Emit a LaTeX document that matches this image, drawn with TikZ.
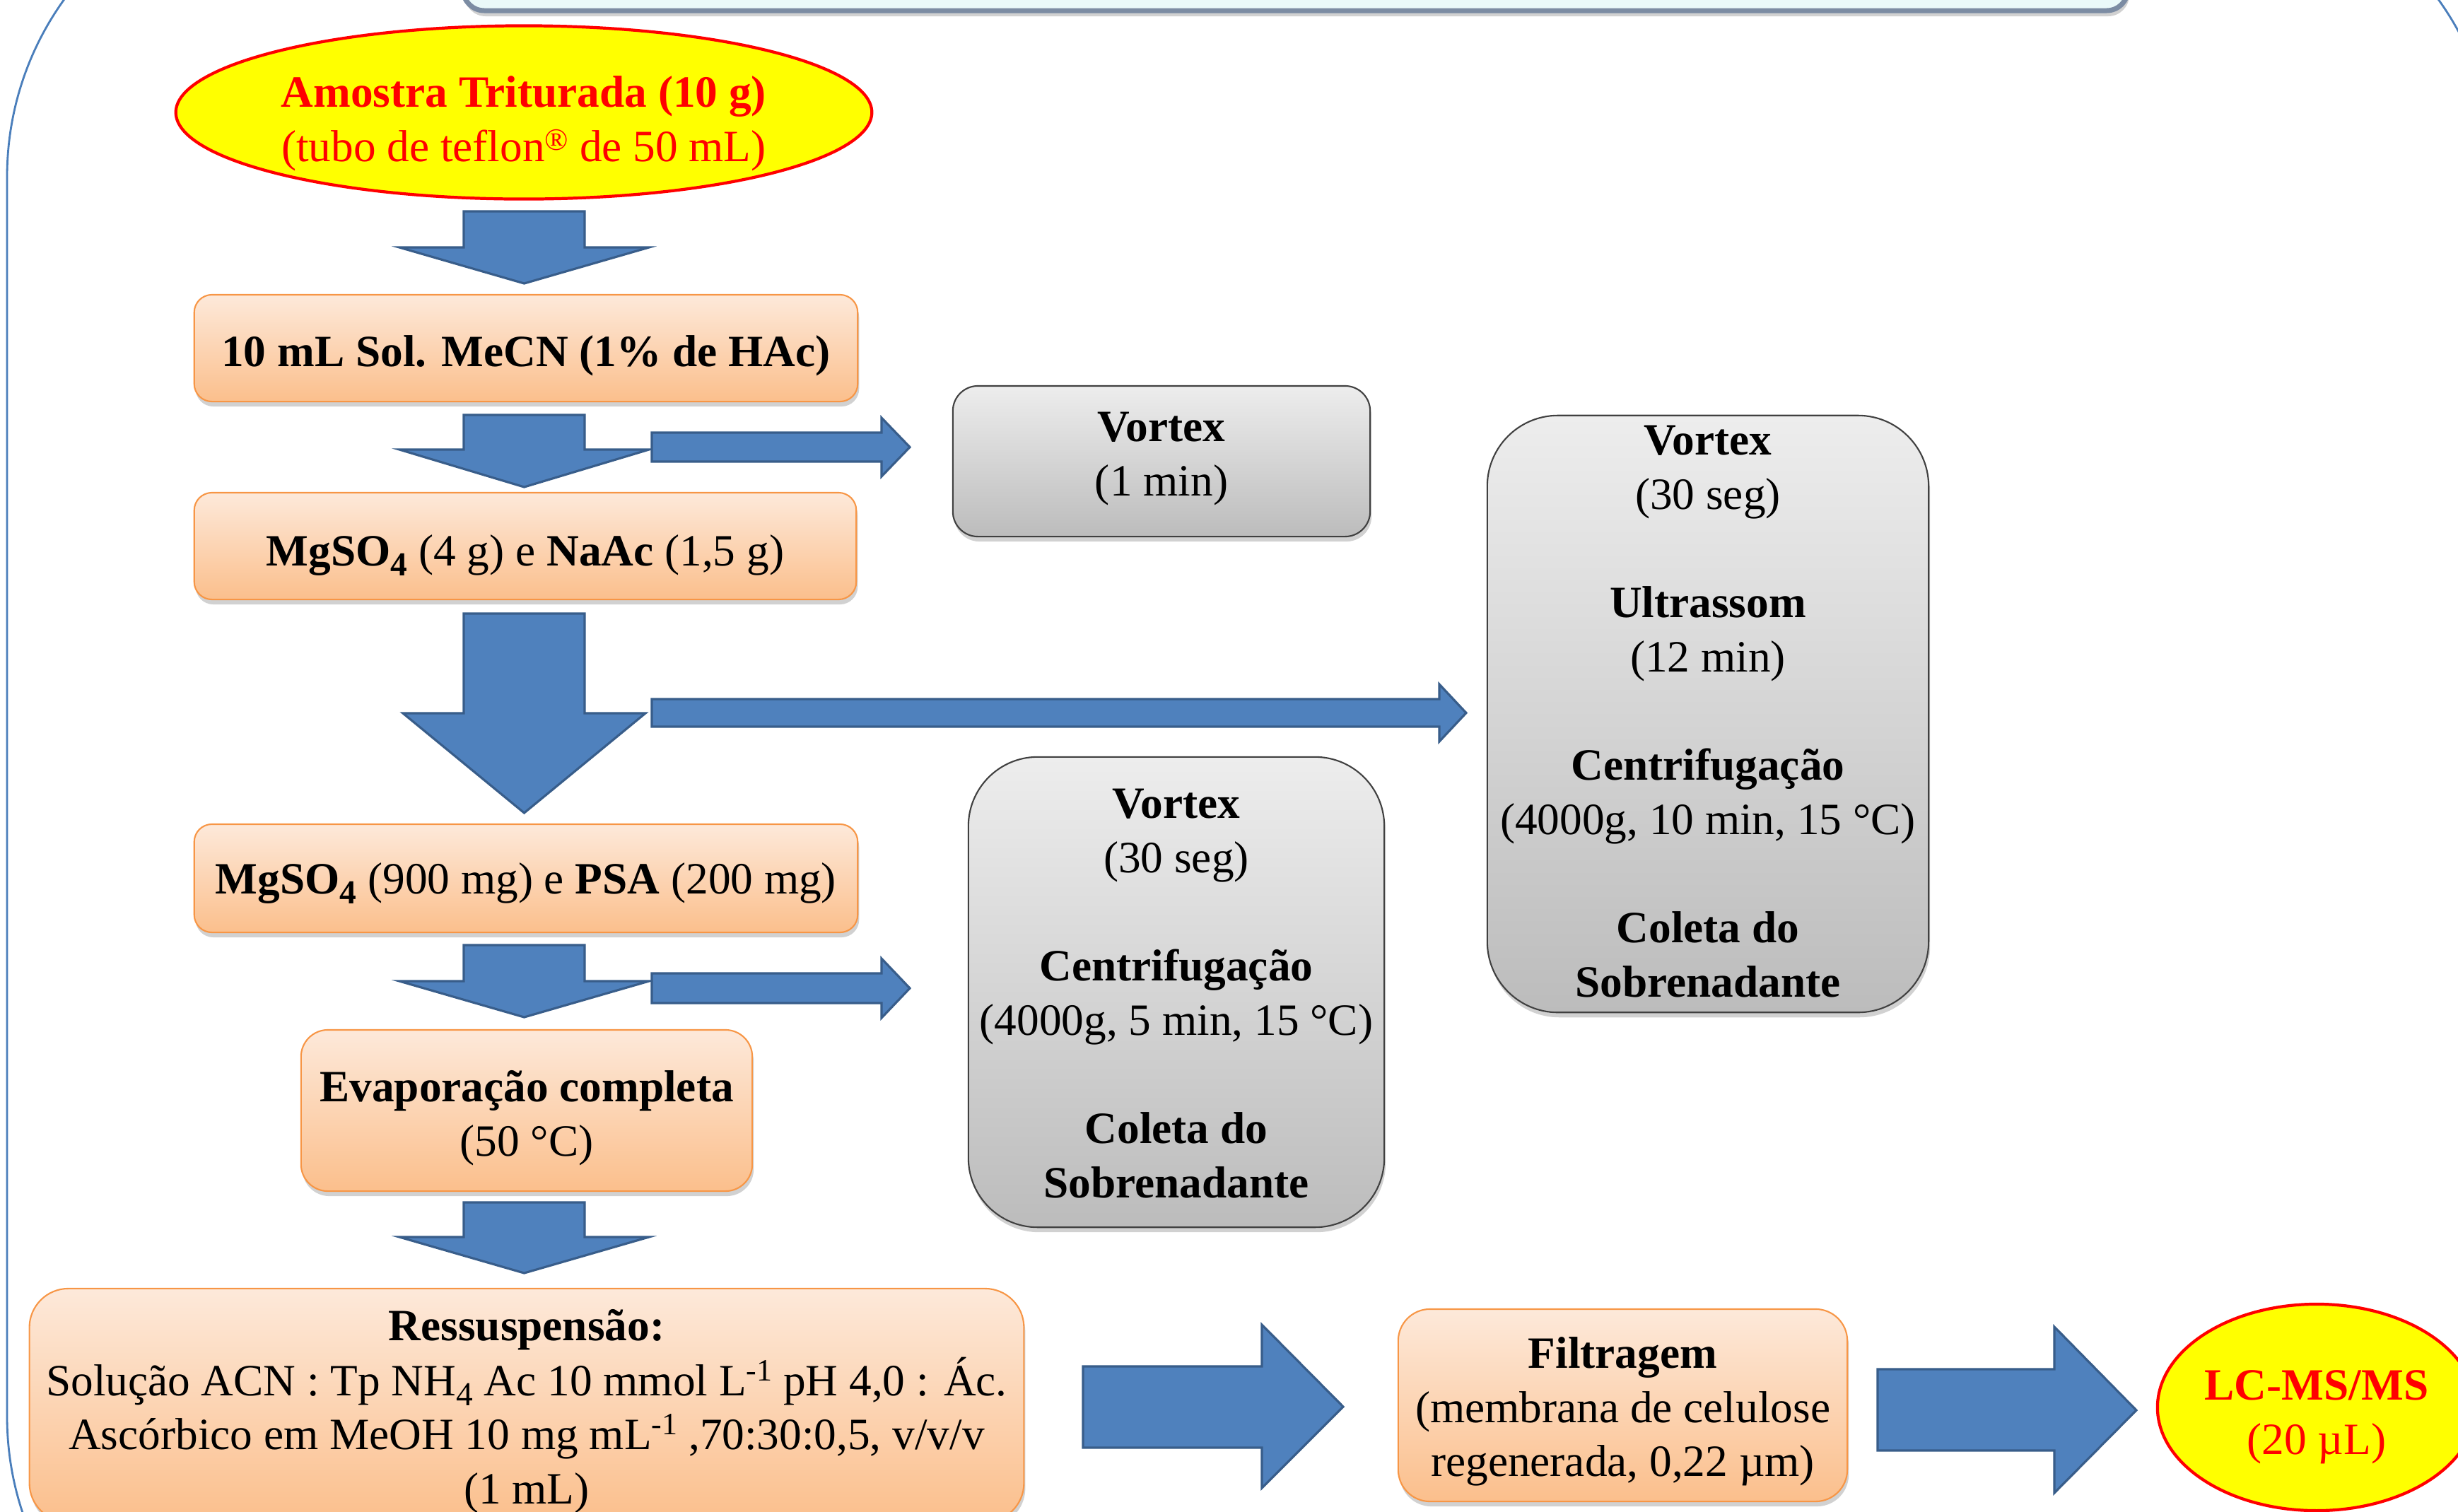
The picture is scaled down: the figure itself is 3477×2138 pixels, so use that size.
\documentclass[tikz,border=0pt]{standalone}
\usepackage{fontspec}
\setmainfont{Liberation Serif}
\usetikzlibrary{shapes.geometric,shadows}
\definecolor{arrowfill}{HTML}{4F81BD}
\definecolor{arrowline}{HTML}{385D8A}
\definecolor{orangeline}{HTML}{F79646}
\definecolor{orangetop}{HTML}{FDE9DA}
\definecolor{orangebot}{HTML}{FBBF8C}
\definecolor{greytop}{HTML}{EDEDED}
\definecolor{greybot}{HTML}{BCBCBC}
\definecolor{frameblue}{HTML}{4A7EBB}
\definecolor{topfill}{HTML}{EAF9F9}
\definecolor{topline}{HTML}{7C8CA3}
\definecolor{ellred}{HTML}{FF0000}
\definecolor{ellyellow}{HTML}{FFFF00}
% text block lowered/raised visually without changing its bounding box
\newcommand\tx[2]{\raisebox{#1}[\height][\depth]{\begin{tabular}{@{}c@{}}#2\end{tabular}}}
\newcommand\sbs[1]{\raisebox{-4pt}{\fontsize{13.5}{13.5}\selectfont #1}}
\newcommand\sps[1]{\raisebox{6pt}{\fontsize{12.5}{12.5}\selectfont #1}}
\newcommand\regmark{\raisebox{4.6pt}{\fontsize{12.5}{12.5}\selectfont ®}}
\newcommand\gapline{\\[21.8pt]}
\tikzset{
  base/.style={font=\fontsize{18}{21.8}\selectfont, inner sep=0pt},
  shad/.style={drop shadow={shadow xshift=0.02cm, shadow yshift=-0.07cm, opacity=0.3, fill=black!60}},
  obox/.style={base, shad, draw=orangeline, line width=0.6pt, top color=orangetop, bottom color=orangebot},
  gbox/.style={base, shad, draw=black!75, line width=0.6pt, top color=greytop, bottom color=greybot},
  yell/.style={base, ellipse, draw=ellred, line width=1.2pt, fill=ellyellow, text=ellred},
  blockarrow/.style={fill=arrowfill, draw=arrowline, line width=0.9pt, line join=miter},
}
\begin{document}
\begin{tikzpicture}[x=0.01cm,y=-0.01cm]
\useasboundingbox (0,0) rectangle (3477,2138);
\begin{scope}
\clip (0,0) rectangle (3477,2138);
% outer frame
\draw[frameblue, line width=0.8pt, rounded corners=4.3cm] (10,-180) rectangle (3530,2434);
% top box (cut off)
\draw[topline, line width=0.07cm, fill=topfill, rounded corners=0.3cm,
  drop shadow={shadow xshift=0.02cm, shadow yshift=-0.08cm, opacity=0.3, fill=black!60}]
  (655,-200) rectangle (3010,15);

% nodes
\node[yell, minimum width=9.84cm, minimum height=2.45cm] (e1) at (741,159)
  {\tx{-4.5pt}{\textbf{Amostra Triturada (10 g)}\\(tubo de teflon\regmark{} de 50 mL)}};
\node[obox, rounded corners=0.25cm, minimum width=9.38cm, minimum height=1.51cm] (b1) at (744,492.5)
  {\tx{-3pt}{\textbf{10 mL Sol. MeCN (1\% de HAc)}}};
\node[obox, rounded corners=0.25cm, minimum width=9.36cm, minimum height=1.51cm] (b2) at (743,772.5)
  {\tx{-3.5pt}{\textbf{MgSO\sbs{4}} (4 g) e \textbf{NaAc} (1,5 g)}};
\node[obox, rounded corners=0.25cm, minimum width=9.38cm, minimum height=1.53cm] (b3) at (744,1242.5)
  {\tx{-2pt}{\textbf{MgSO\sbs{4}} (900 mg) e \textbf{PSA} (200 mg)}};
\node[obox, rounded corners=0.38cm, minimum width=6.38cm, minimum height=2.28cm] (b4) at (745,1571)
  {\tx{-3pt}{\textbf{Evaporação completa}\\(50 °C)}};
\node[obox, rounded corners=0.55cm, minimum width=14.06cm, minimum height=3.30cm] (b5) at (745,1988)
  {\tx{-2.5pt}{\textbf{Ressuspensão:}\\
   Solução ACN : Tp NH\sbs{4} Ac 10 mmol L\sps{-1} pH 4,0 : Ác.\\
   Ascórbico em MeOH 10 mg mL\sps{-1} ,70:30:0,5, v/v/v\\
   (1 mL)}};
\node[gbox, rounded corners=0.355cm, minimum width=5.90cm, minimum height=2.13cm] (v1) at (1643,652.5)
  {\tx{1.3pt}{\textbf{Vortex}\\(1 min)}};
\node[gbox, rounded corners=1.0cm, minimum width=6.24cm, minimum height=8.44cm] (v2) at (2416,1010)
  {\tx{-0.5pt}{\textbf{Vortex}\\(30 seg)\gapline\textbf{Ultrassom}\\(12 min)\gapline\textbf{Centrifugação}\\(4000g, 10 min, 15 °C)\gapline\textbf{Coleta do}\\\textbf{Sobrenadante}}};
\node[gbox, rounded corners=0.98cm, minimum width=5.88cm, minimum height=6.65cm] (v3) at (1664,1403.5)
  {\tx{-2pt}{\textbf{Vortex}\\(30 seg)\gapline\textbf{Centrifugação}\\(4000g, 5 min, 15 °C)\gapline\textbf{Coleta do}\\\textbf{Sobrenadante}}};
\node[obox, rounded corners=0.45cm, minimum width=6.35cm, minimum height=2.72cm] (f) at (2295.5,1988)
  {\tx{-2.5pt}{\textbf{Filtragem}\\(membrana de celulose\\regenerada, 0,22 µm)}};
\node[yell, minimum width=4.5cm, minimum height=2.92cm] (e2) at (3277,1991)
  {\tx{-3.5pt}{\textbf{LC-MS/MS}\\(20 µL)}};

% block arrows (down)
\draw[blockarrow] (656,299) -- (827,299) -- (827,350) -- (918,350) -- (741.5,401) -- (565,350) -- (656,350) -- cycle;
\draw[blockarrow] (656,587) -- (827,587) -- (827,636) -- (918,636) -- (741.5,689) -- (565,636) -- (656,636) -- cycle;
\draw[blockarrow] (656,868) -- (827,868) -- (827,1009) -- (913,1009) -- (741.5,1150) -- (570,1009) -- (656,1009) -- cycle;
\draw[blockarrow] (656,1337) -- (827,1337) -- (827,1388) -- (918,1388) -- (741.5,1439) -- (565,1388) -- (656,1388) -- cycle;
\draw[blockarrow] (656,1701) -- (827,1701) -- (827,1750) -- (918,1750) -- (741.5,1801) -- (565,1750) -- (656,1750) -- cycle;
% block arrows (right)
\draw[blockarrow] (922,612) -- (1247,612) -- (1247,591) -- (1287,632.5) -- (1247,674) -- (1247,653) -- (922,653) -- cycle;
\draw[blockarrow] (922,989) -- (2036,989) -- (2036,968) -- (2074,1008.5) -- (2036,1049) -- (2036,1028) -- (922,1028) -- cycle;
\draw[blockarrow] (922,1377) -- (1247,1377) -- (1247,1356) -- (1287,1398) -- (1247,1440) -- (1247,1419) -- (922,1419) -- cycle;
\draw[blockarrow] (1532,1933) -- (1785,1933) -- (1785,1874) -- (1900,1990) -- (1785,2105) -- (1785,2048) -- (1532,2048) -- cycle;
\draw[blockarrow] (2656,1937) -- (2906,1937) -- (2906,1877) -- (3022,1995) -- (2906,2112) -- (2906,2052) -- (2656,2052) -- cycle;
\end{scope}
\end{tikzpicture}
\end{document}
